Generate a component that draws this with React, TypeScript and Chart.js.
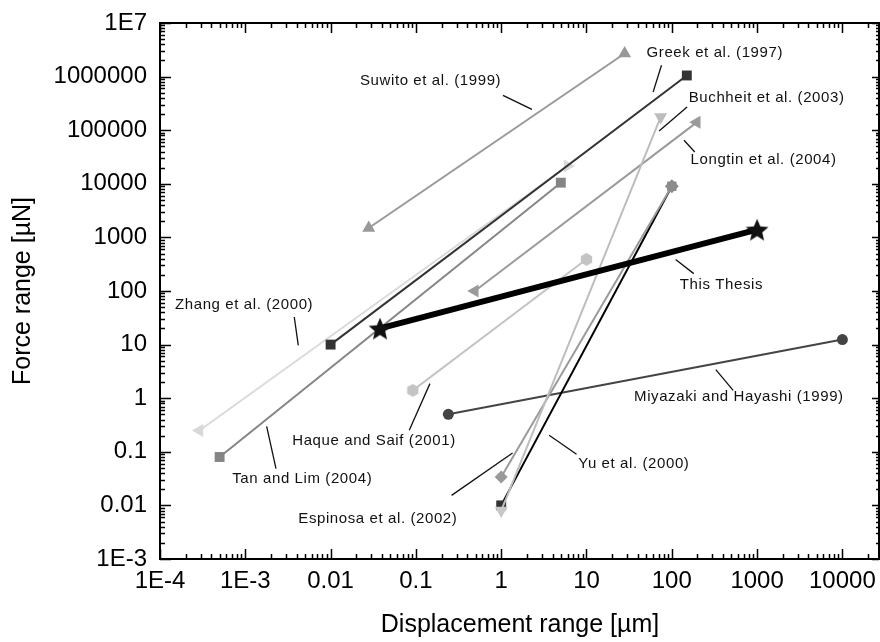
import React, { useEffect, useRef } from "react";
import { Chart, registerables } from "chart.js";

Chart.register(...registerables);

const FONT = "'Liberation Sans', Arial, Helvetica, sans-serif";

// ---------------- data ----------------
const seriesNames = [
  "This Thesis",
  "Buchheit et al. (2003)",
  "Espinosa et al. (2002)",
  "Yu et al. (2000)",
  "Haque and Saif (2001)",
  "Longtin et al. (2004)",
  "Greek et al. (1997)",
  "Tan and Lim (2004)",
  "Zhang et al. (2000)",
  "Suwito et al. (1999)",
  "Miyazaki and Hayashi (1999)",
];

const thesisX = [0.038, 1000];
const thesisY = [20, 1400];
const buchheitX = [1, 74];
const buchheitY = [0.008, 176000];
const espinosaX = [1, 100];
const espinosaY = [0.034, 9000];
const yuX = [1, 100];
const yuY = [0.01, 9000];
const haqueX = [0.092, 10];
const haqueY = [1.4, 390];
const longtinX = [0.49, 196];
const longtinY = [100, 140000];
const greekX = [0.01, 150];
const greekY = [10, 1050000];
const tanX = [0.0005, 5];
const tanY = [0.08, 10500];
const zhangX = [0.00029, 6];
const zhangY = [0.25, 21500];
const suwitoX = [0.028, 28];
const suwitoY = [1500, 2700000];
const miyazakiX = [0.24, 10000];
const miyazakiY = [0.5, 12.4];

const xTickValues = [1e-4, 1e-3, 0.01, 0.1, 1, 10, 100, 1000, 10000];
const xTickLabels = ["1E-4", "1E-3", "0.01", "0.1", "1", "10", "100", "1000", "10000"];
const yTickValues = [1e-3, 0.01, 0.1, 1, 10, 100, 1000, 10000, 100000, 1000000, 1e7];
const yTickLabels = ["1E-3", "0.01", "0.1", "1", "10", "100", "1000", "10000", "100000", "1000000", "1E7"];

const xMin = 1e-4;
const xMax = 27600;
const yMin = 1e-3;
const yMax = 1e7;

const xTitle = "Displacement range [µm]";
const yTitle = "Force range [µN]";

// annotation labels (text start, data coords) and leader lines
const labelTexts = [
  "Suwito et al. (1999)",
  "Greek et al. (1997)",
  "Buchheit et al. (2003)",
  "Longtin et al. (2004)",
  "This Thesis",
  "Zhang et al. (2000)",
  "Tan and Lim (2004)",
  "Haque and Saif (2001)",
  "Espinosa et al. (2002)",
  "Yu et al. (2000)",
  "Miyazaki and Hayashi (1999)",
];
const labelX = [0.0221, 50.6, 158, 166, 124, 0.00015, 0.000703, 0.00355, 0.00418, 7.98, 36.1];
const labelY = [850000, 2720000, 399000, 28200, 133, 54, 0.0316, 0.157, 0.00568, 0.0603, 1.08];
const leaderX1 = [1.05, 75.7, 151, 139, 111, 0.00375, 0.00178, 0.146, 0.262, 3.65, 328];
const leaderY1 = [448000, 1630000, 271000, 64900, 386, 32.7, 0.299, 1.87, 0.0154, 0.203, 3.42];
const leaderX2 = [2.29, 60.4, 71, 186, 181, 0.00418, 0.00229, 0.0836, 1.36, 7.64, 524];
const leaderY2 = [245000, 516000, 96600, 39200, 211, 9.7, 0.0486, 0.252, 0.095, 0.0897, 1.4];

// ---------------- marker images ----------------
function makeStar(outer: number, inner: number, color: string) {
  const size = Math.ceil(outer * 2 + 2);
  const c = document.createElement("canvas");
  c.width = size;
  c.height = size;
  const g = c.getContext("2d")!;
  g.fillStyle = color;
  g.beginPath();
  const cx = size / 2;
  const cy = size / 2 + outer * 0.1;
  for (let i = 0; i < 10; i++) {
    const r = i % 2 ? inner : outer;
    const a = -Math.PI / 2 + (i * Math.PI) / 5;
    g.lineTo(cx + r * Math.cos(a), cy + r * Math.sin(a));
  }
  g.closePath();
  g.fill();
  return c;
}

function makeHex(r: number, color: string) {
  const size = Math.ceil(r * 2 + 2);
  const c = document.createElement("canvas");
  c.width = size;
  c.height = size;
  const g = c.getContext("2d")!;
  g.fillStyle = color;
  g.beginPath();
  for (let i = 0; i < 6; i++) {
    const a = -Math.PI / 2 + (i * Math.PI) / 3;
    g.lineTo(size / 2 + r * Math.cos(a), size / 2 + r * Math.sin(a));
  }
  g.closePath();
  g.fill();
  return c;
}

function pts(xs: number[], ys: number[]) {
  return xs.map((x, i) => ({ x, y: ys[i] }));
}

function findLabel(v: number, values: number[], labels: string[]) {
  const lv = Math.log10(v);
  for (let i = 0; i < values.length; i++) {
    if (Math.abs(Math.log10(values[i]) - lv) < 1e-6) return labels[i];
  }
  return "";
}

const decorPlugin = {
  id: "decor",
  afterDraw(chart: any) {
    const { ctx, chartArea, scales } = chart;
    const xs = scales.x;
    const ys = scales.y;
    const { left, right, top, bottom } = chartArea;
    ctx.save();

    // leader lines
    ctx.strokeStyle = "#111";
    ctx.lineWidth = 1.3;
    for (let i = 0; i < leaderX1.length; i++) {
      ctx.beginPath();
      ctx.moveTo(xs.getPixelForValue(leaderX1[i]), ys.getPixelForValue(leaderY1[i]));
      ctx.lineTo(xs.getPixelForValue(leaderX2[i]), ys.getPixelForValue(leaderY2[i]));
      ctx.stroke();
    }

    // labels
    ctx.fillStyle = "#111";
    ctx.font = `15px ${FONT}`;
    (ctx as any).letterSpacing = "0.6px";
    ctx.textAlign = "left";
    ctx.textBaseline = "middle";
    for (let i = 0; i < labelTexts.length; i++) {
      ctx.fillText(labelTexts[i], xs.getPixelForValue(labelX[i]), ys.getPixelForValue(labelY[i]));
    }
    (ctx as any).letterSpacing = "0px";

    // ticks
    ctx.strokeStyle = "#000";
    ctx.lineWidth = 1.5;
    ctx.beginPath();
    for (let e = -4; e <= 5; e++) {
      for (let m = 1; m <= 9; m++) {
        const v = m * Math.pow(10, e);
        if (v < xMin * 0.999 || v > xMax) continue;
        const p = Math.round(xs.getPixelForValue(v)) + 0.5;
        const len = m === 1 ? 10 : 5;
        ctx.moveTo(p, bottom);
        ctx.lineTo(p, bottom - len);
        ctx.moveTo(p, top);
        ctx.lineTo(p, top + len);
      }
    }
    for (let e = -3; e <= 7; e++) {
      for (let m = 1; m <= 9; m++) {
        const v = m * Math.pow(10, e);
        if (v < yMin * 0.999 || v > yMax * 1.001) continue;
        const p = Math.round(ys.getPixelForValue(v)) + 0.5;
        const len = m === 1 ? 11 : 5;
        ctx.moveTo(left, p);
        ctx.lineTo(left + len, p);
        ctx.moveTo(right - 1, p);
        ctx.lineTo(right - 1 - (m === 1 ? 7 : 3), p);
      }
    }
    ctx.stroke();

    // frame
    ctx.lineWidth = 2;
    ctx.strokeRect(left, top, right - 1 - left, bottom - top);
    ctx.restore();
  },
};

export default function App() {
  const ref = useRef<HTMLCanvasElement>(null);

  useEffect(() => {
    if (!ref.current) return;
    Chart.defaults.font.family = FONT;
    const star = makeStar(12, 5.4, "#111");
    const hex = makeHex(6.5, "#c4c4c4");

    const mk = (
      idx: number,
      xs: number[],
      ys: number[],
      color: string,
      width: number,
      styles: any[],
      rots: number[],
      radii: number[],
      markerColors: string[]
    ) => ({
      label: seriesNames[idx],
      data: pts(xs, ys),
      showLine: true,
      borderColor: color,
      backgroundColor: color,
      borderWidth: width,
      pointStyle: styles,
      pointRotation: rots,
      pointRadius: radii,
      pointBackgroundColor: markerColors,
      pointBorderColor: markerColors,
      pointBorderWidth: 0,
      order: idx,
      clip: false,
    });

    const datasets = [
      mk(0, thesisX, thesisY, "#000", 6, [star, star], [0, 0], [12, 12], ["#111", "#111"]),
      mk(1, buchheitX, buchheitY, "#bdbdbd", 2, ["triangle", "triangle"], [180, 180], [7.5, 7.5], ["#c8c8c8", "#bdbdbd"]),
      mk(2, espinosaX, espinosaY, "#9a9a9a", 2, ["rectRot", "rectRot"], [0, 0], [6.5, 7], ["#9a9a9a", "#8c8c8c"]),
      mk(3, yuX, yuY, "#000", 2, ["rect", "rect"], [0, 0], [7, 6.5], ["#333", "#777"]),
      mk(4, haqueX, haqueY, "#c4c4c4", 2, [hex, hex], [0, 0], [6.5, 6.5], ["#c4c4c4", "#c4c4c4"]),
      mk(5, longtinX, longtinY, "#9a9a9a", 2, ["triangle", "triangle"], [270, 270], [7.5, 7.5], ["#9a9a9a", "#9a9a9a"]),
      mk(6, greekX, greekY, "#333", 2, ["rect", "rect"], [0, 0], [7, 7], ["#333", "#333"]),
      mk(7, tanX, tanY, "#858585", 2, ["rect", "rect"], [0, 0], [7, 7], ["#858585", "#858585"]),
      mk(8, zhangX, zhangY, "#dadada", 2, ["triangle", "triangle"], [270, 90], [7.5, 7.5], ["#d8d8d8", "#d8d8d8"]),
      mk(9, suwitoX, suwitoY, "#999", 2, ["triangle", "triangle"], [0, 0], [7.5, 7.5], ["#999", "#999"]),
      mk(10, miyazakiX, miyazakiY, "#444", 2, ["circle", "circle"], [0, 0], [5.5, 5.5], ["#444", "#444"]),
    ];

    const chart = new Chart(ref.current, {
      type: "scatter",
      data: { datasets: datasets as any },
      options: {
        responsive: false,
        animation: false,
        events: [],
        layout: { autoPadding: false, padding: { top: 23, left: 0, right: 0, bottom: 0 } },
        plugins: {
          legend: { display: false },
          tooltip: { enabled: false },
        },
        elements: { line: { tension: 0, borderCapStyle: "butt" } },
        scales: {
          x: {
            type: "logarithmic",
            position: "bottom",
            min: xMin,
            max: xMax,
            afterBuildTicks: (s: any) => {
              s.ticks = xTickValues.map((v) => ({ value: v, major: true }));
            },
            afterFit: (s: any) => {
              s.height = 83;
              s.paddingLeft = 0;
              s.paddingRight = 0;
              s.paddingTop = 0;
              s.paddingBottom = 0;
            },
            ticks: {
              autoSkip: false,
              maxRotation: 0,
              padding: 8,
              color: "#000",
              font: { size: 24, family: FONT },
              callback: (v: any) => findLabel(Number(v), xTickValues, xTickLabels),
            },
            grid: { display: false, drawTicks: false },
            border: { display: false },
            title: {
              display: true,
              text: xTitle,
              color: "#000",
              font: { size: 25, family: FONT },
              padding: { top: 0, bottom: 2 },
            },
          },
          y: {
            type: "logarithmic",
            position: "left",
            min: yMin,
            max: yMax,
            afterBuildTicks: (s: any) => {
              s.ticks = yTickValues.map((v) => ({ value: v, major: true }));
            },
            afterFit: (s: any) => {
              s.width = 160;
              s.paddingLeft = 0;
              s.paddingRight = 0;
              s.paddingTop = 0;
              s.paddingBottom = 0;
            },
            ticks: {
              autoSkip: false,
              padding: 13,
              color: "#000",
              font: { size: 24, family: FONT },
              callback: (v: any) => findLabel(Number(v), yTickValues, yTickLabels),
            },
            grid: { display: false, drawTicks: false },
            border: { display: false },
            title: {
              display: true,
              text: yTitle,
              color: "#000",
              font: { size: 25, family: FONT },
              padding: { top: 8.3, bottom: 0 },
            },
          },
        },
      },
      plugins: [decorPlugin],
    });

    return () => chart.destroy();
  }, []);

  return (
    <div style={{ position: "fixed", left: 0, top: 0, width: 880, height: 642, background: "#fff" }}>
      <canvas ref={ref} width={880} height={642} style={{ display: "block" }} />
    </div>
  );
}
